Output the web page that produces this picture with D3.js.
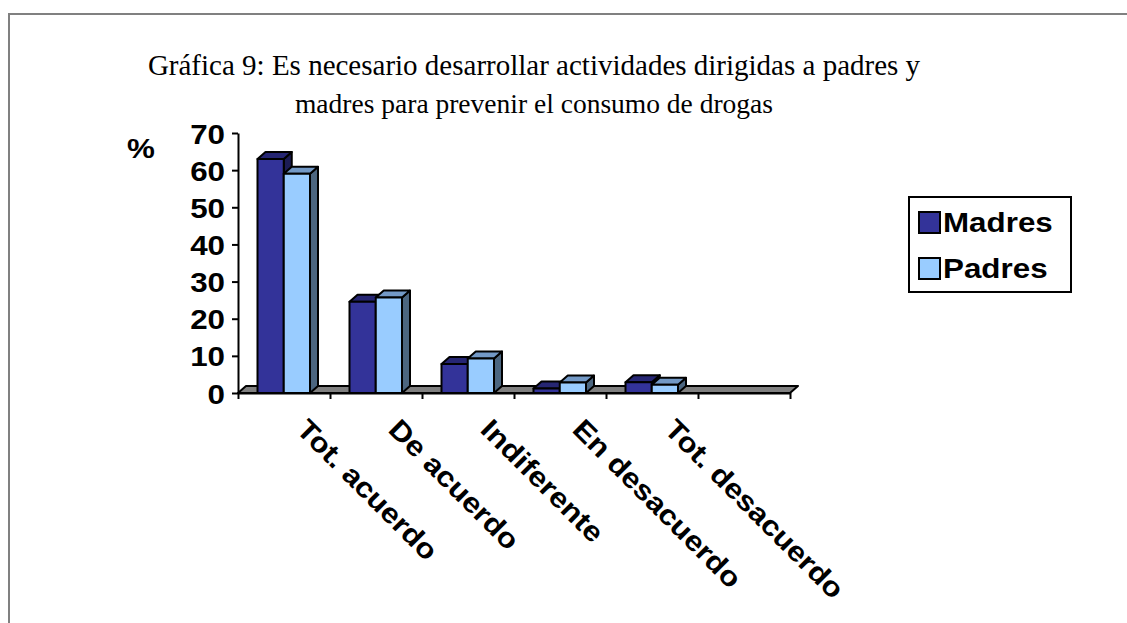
<!DOCTYPE html>
<html>
<head>
<meta charset="utf-8">
<script src="https://cdn.jsdelivr.net/npm/d3@7"></script>
<style>
  body { margin: 0; background: #fff; }
  text { font-family: "Liberation Sans", Arial, sans-serif; font-weight: bold; }
</style>
</head>
<body>
<div id="chart"></div>
<script>
// values (%)
let categories = ["Tot. acuerdo", "De acuerdo", "Indiferente", "En desacuerdo", "Tot. desacuerdo", ""];
let series = ["Madres", "Padres"];
let madres = [63, 24.6, 7.8, 1.2, 2.9];
let padres = [59, 25.7, 9.3, 2.8, 2.2];
let yTicks = [0, 10, 20, 30, 40, 50, 60, 70];
let titleLines = ["Gráfica 9: Es necesario desarrollar actividades dirigidas a padres y",
                  "madres para prevenir el consumo de drogas"];

let width = 1127, height = 623;
let SX = 1.12;          // the sans text in the picture is a bit wider than Arial
let dx = 8, dy = -7;    // 3d depth offset

let colors = {
    Madres: { front: "#333399", top: "#262673", side: "#1c1c55" },
    Padres: { front: "#99CCFF", top: "#7399C6", side: "#4C6680" }
};

let svg = d3.select("#chart")
    .append("svg")
    .attr("width", width)
    .attr("height", height);

// outer frame
svg.append("rect")
    .attr("x", 9).attr("y", 14)
    .attr("width", width + 10).attr("height", height + 10)
    .attr("fill", "none")
    .attr("stroke", "#808080")
    .attr("stroke-width", 2);

// title
svg.selectAll(".title")
    .data(titleLines)
    .enter()
    .append("text")
    .attr("class", "title")
    .attr("x", 534)
    .attr("y", function(d, i) { return 75 + i * 38; })
    .attr("text-anchor", "middle")
    .style("font-family", "'Liberation Serif', 'Times New Roman', serif")
    .style("font-weight", "normal")
    .style("font-size", function(d, i) { return i === 0 ? "29px" : "27.5px"; })
    .text(function(d) { return d; });

let x = d3.scaleBand()
    .domain(d3.range(categories.length))
    .range([238, 790]);

let xSub = d3.scaleBand()
    .domain(series)
    .range([19.5, x.bandwidth() - 20]);

let y = d3.scaleLinear()
    .domain([0, 70])
    .range([393, 133]);

// floor
let y0 = y(0);
svg.append("polygon")
    .attr("points", [[238, y0], [790, y0], [790 + dx, y0 + dy], [238 + dx, y0 + dy]].join(" "))
    .attr("fill", "#808080")
    .attr("stroke", "black")
    .attr("stroke-width", 2)
    .attr("stroke-linejoin", "round");

// category ticks on the band edges
let xEdge = d3.scaleLinear().domain([0, categories.length]).range([238, 790]);
svg.append("g")
    .attr("transform", "translate(0," + y0 + ")")
    .call(d3.axisBottom(xEdge).tickValues(d3.range(categories.length + 1)).tickFormat("").tickSize(6).tickSizeOuter(0))
    .call(function(g) {
        g.select(".domain").attr("stroke", "black").attr("stroke-width", 2);
        g.selectAll(".tick line").attr("stroke", "black").attr("stroke-width", 2);
    });

// bars
let rows = [];
madres.forEach(function(v, i) {
    rows.push({ cat: i, key: "Madres", value: v });
    rows.push({ cat: i, key: "Padres", value: padres[i] });
});

let bars = svg.selectAll(".bar")
    .data(rows)
    .enter()
    .append("g")
    .attr("class", "bar");

bars.each(function(d) {
    let g = d3.select(this);
    let bx = x(d.cat) + xSub(d.key);
    let bw = xSub.bandwidth();
    let yt = y(d.value);
    let c = colors[d.key];
    g.append("polygon")
        .attr("points", [[bx + bw, yt], [bx + bw + dx, yt + dy], [bx + bw + dx, y0 + dy], [bx + bw, y0]].join(" "))
        .attr("fill", c.side);
    g.append("polygon")
        .attr("points", [[bx, yt], [bx + dx, yt + dy], [bx + bw + dx, yt + dy], [bx + bw, yt]].join(" "))
        .attr("fill", c.top);
    g.append("rect")
        .attr("x", bx).attr("y", yt)
        .attr("width", bw).attr("height", y0 - yt)
        .attr("fill", c.front);
    g.selectAll("polygon, rect")
        .attr("stroke", "black")
        .attr("stroke-width", 2)
        .attr("stroke-linejoin", "round");
});

// value axis
svg.append("g")
    .attr("transform", "translate(238,0)")
    .call(d3.axisLeft(y).tickValues(yTicks).tickSize(6).tickSizeOuter(0).tickPadding(7))
    .call(function(g) {
        g.select(".domain").attr("stroke", "black").attr("stroke-width", 2);
        g.selectAll(".tick line").attr("stroke", "black").attr("stroke-width", 2);
        g.selectAll(".tick text")
            .attr("fill", "black")
            .style("font-size", "28px")
            .attr("x", -13 / SX)
            .attr("dy", "0.36em")
            .attr("transform", "scale(" + SX + ",1)");
    });

svg.append("text")
    .attr("transform", "translate(127,158) scale(" + SX + ",1)")
    .style("font-size", "28px")
    .text("%");

// rotated category labels
svg.selectAll(".catlabel")
    .data(categories.filter(function(c) { return c !== ""; }))
    .enter()
    .append("text")
    .attr("class", "catlabel")
    .attr("transform", function(d, i) {
        return "translate(" + (x(i) + x.bandwidth() / 2 + 11) + ",431) rotate(45) scale(" + SX + ",1)";
    })
    .style("font-size", "28px")
    .text(function(d) { return d; });

// legend
let legend = svg.append("g").attr("transform", "translate(909,197)");
legend.append("rect")
    .attr("width", 162).attr("height", 95)
    .attr("fill", "white")
    .attr("stroke", "black")
    .attr("stroke-width", 2);

let items = legend.selectAll(".item")
    .data(series)
    .enter()
    .append("g")
    .attr("transform", function(d, i) { return "translate(0," + (i * 46) + ")"; });

items.append("rect")
    .attr("x", 10).attr("y", 15)
    .attr("width", 21).attr("height", 21)
    .attr("fill", function(d) { return colors[d].front; })
    .attr("stroke", "black")
    .attr("stroke-width", 2);

items.append("text")
    .attr("transform", "translate(34,35) scale(" + SX + ",1)")
    .style("font-size", "28px")
    .text(function(d) { return d; });
</script>
</body>
</html>
